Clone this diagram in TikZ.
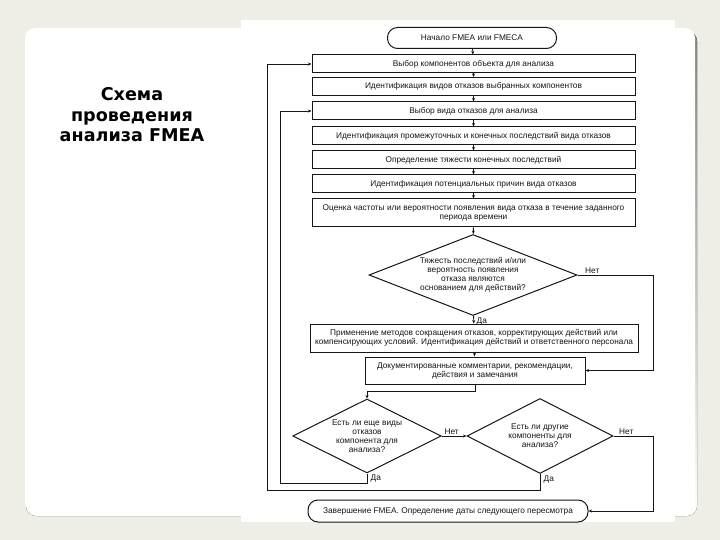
\documentclass[tikz,border=0pt]{standalone}
\usepackage{fontspec}
\setmainfont{Liberation Sans}
\newfontfamily\headfont{DejaVu Sans}
\usetikzlibrary{arrows.meta,shapes.geometric}
\definecolor{pagebg}{HTML}{EEEDE6}
\definecolor{shade}{HTML}{CFCEC8}
\definecolor{ink}{HTML}{161616}

\begin{document}
\begin{tikzpicture}[x=1pt,y=-1pt,>={Stealth[length=3.5pt,width=3pt]},
  every node/.style={font=\fontsize{8.3}{9}\selectfont,text=ink},
  box/.style={draw=ink,line width=1pt,align=center,minimum width=323pt,minimum height=18pt,inner sep=1pt},
  term/.style={draw=ink,line width=1pt,rounded corners=10pt,minimum height=21pt,inner sep=2pt},
  dec/.style={diamond,draw=ink,line width=1pt,align=center,inner sep=0pt,aspect=2.4},
  lbl/.style={inner sep=1.5pt},
  link/.style={draw=ink,line width=0.9pt}]
\useasboundingbox (0,0) rectangle (720,540);
\fill[pagebg] (0,0) rectangle (720,540);
\fill[shade,rounded corners=10pt] (26,31) rectangle (697,516);
\fill[white,rounded corners=10pt] (25,28) rectangle (695,512);
\fill[white] (241,20) rectangle (675,522);
\node[font=\headfont\bfseries\fontsize{17.6}{20.5}\selectfont,text=black,align=center] (title) at (132,115) {Схема\\проведения\\анализа FMEA};

\node[term,minimum width=169pt] (start) at (472,38) {Начало FMEA или FMECA};
\node[box] (b1) at (473.5,64) {Выбор компонентов объекта для анализа};
\node[box] (b2) at (473.5,86.5) {Идентификация видов отказов выбранных компонентов};
\node[box] (b3) at (473.5,111) {Выбор вида отказов для анализа};
\node[box] (b4) at (473.5,136) {Идентификация промежуточных и конечных последствий вида отказов};
\node[box] (b5) at (473.5,160) {Определение тяжести конечных последствий};
\node[box] (b6) at (473.5,184) {Идентификация потенциальных причин вида отказов};
\node[box,minimum height=28pt] (b7) at (473.5,213) {Оценка частоты или вероятности появления вида отказа в течение заданного\\периода времени};
\node[dec,minimum width=208pt,minimum height=81pt] (d1) at (473,275) {Тяжесть последствий и/или\\вероятность появления\\отказа являются\\основанием для действий?};
\node[box,minimum width=328pt,minimum height=28pt] (b8) at (474,338) {Применение методов сокращения отказов, корректирующих действий или\\компенсирующих условий. Идентификация действий и ответственного персонала};
\node[box,minimum width=220pt,minimum height=27pt] (b9) at (475,370.5) {Документированные комментарии, рекомендации,\\действия и замечания};
\node[dec,minimum width=147pt,minimum height=74pt] (d2) at (367,436) {Есть ли еще виды\\отказов\\компонента для\\анализа?};
\node[dec,minimum width=146pt,minimum height=75pt] (d3) at (540,436) {Есть ли другие\\компоненты для\\анализа?};
\node[term,minimum width=280pt,minimum height=22pt] (end) at (448,511) {Завершение FMEA. Определение даты следующего пересмотра};

\node[lbl,anchor=south west] (no1) at ([xshift=6pt]d1.east) {Нет};
\node[lbl,anchor=north west] (yes1) at ([xshift=2pt]d1.south) {Да};
\node[lbl,anchor=south west] (no2) at ([xshift=1pt]d2.east) {Нет};
\node[lbl,anchor=north west] (yes2) at ([xshift=2pt]d2.south) {Да};
\node[lbl,anchor=south west] (no3) at ([xshift=4pt]d3.east) {Нет};
\node[lbl,anchor=north west] (yes3) at ([xshift=2pt]d3.south) {Да};

\coordinate (rt1) at (653,275);
\coordinate (rt2) at (653,436);
\coordinate (jn) at (367,391);
\coordinate (lp2) at (280,483);
\coordinate (lp3) at (267,490);

\draw[link,->] (start) -- (b1);
\draw[link,->] (b1) -- (b2);
\draw[link,->] (b2) -- (b3);
\draw[link,->] (b3) -- (b4);
\draw[link,->] (b4) -- (b5);
\draw[link,->] (b5) -- (b6);
\draw[link,->] (b6) -- (b7);
\draw[link,->] (b7) -- (d1);
\draw[link,->] (d1) -- (b8);
\draw[link,->] (b8) -- (b9);
\draw[link,->] (d1.east) -- (rt1) |- (b9.east);
\draw[link,->] (b9.south) |- (jn) -- (d2.north);
\draw[link,->] (d2.east) -- (d3.west);
\draw[link,->] (d3.east) -- (rt2) |- (end.east);
\draw[link,->] (d2.south) |- (lp2) |- (b3.west);
\draw[link,->] (d3.south) |- (lp3) |- (b1.west);
\end{tikzpicture}
\end{document}
